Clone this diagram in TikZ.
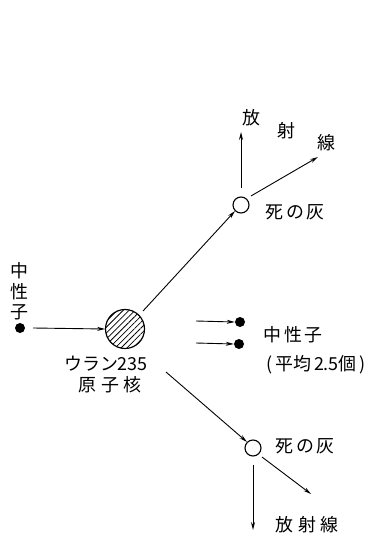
\documentclass[tikz,border=0pt]{standalone}
\usepackage{fontspec}
\newfontfamily\jp{Noto Sans CJK JP}
\usetikzlibrary{arrows.meta,patterns.meta}
\begin{document}
\begin{tikzpicture}[x=1bp,y=-1bp,
  arr/.style={line width=0.9pt,-{Stealth[length=8pt,width=4pt]}},
  lbl/.style={font=\jp\fontsize{18}{20}\selectfont,inner sep=0pt},
  dot/.style={circle,fill=black,minimum size=10bp,inner sep=0pt},
  ring/.style={circle,draw,line width=1.1pt,minimum size=16bp,inner sep=0pt},
  nuc/.style={circle,draw,line width=1.2pt,minimum size=39bp,inner sep=0pt,
    pattern={Lines[angle=45,distance=4.2pt,line width=0.8pt]}}]
\useasboundingbox (0,0) rectangle (378,540);
% left neutron
\node[lbl] (n1) at (19,271) {中};
\node[lbl] (n2) at (19,292) {性};
\node[lbl] (n3) at (19,312) {子};
\node[dot] (nd) at (20,328) {};
\node[nuc] (U) at (125,329) {};
\draw[arr] (nd.east) ++(8,0) coordinate (ns) -- (U.west);
\node[lbl] (ul1) at (106,364) {ウラン235};
\node[lbl] (ul2) at (110,385) {原\;子\;核};
% top fragment
\node[ring] (f1) at (241,205) {};
\draw[arr] (U.north east) ++(4,-4) coordinate (us) -- (f1.south west);
\node[lbl] (f1l) at (295,212) {死\,の\,灰};
\coordinate (t1) at (241,132);
\draw[arr] (f1.north) ++(0,-8) coordinate (f1a) -- (t1);
\coordinate (t2) at (318,157);
\draw[arr] (f1.north east) ++(4,-3) coordinate (f1b) -- (t2);
\node[lbl] (r1) at (251,118) {放};
\node[lbl] (r2) at (286,131) {射};
\node[lbl] (r3) at (326,143) {線};
% middle neutrons
\node[dot] (m1) at (240,322) {};
\node[dot] (m2) at (239,344) {};
\coordinate (m1s) at (196,321);
\coordinate (m2s) at (196,343);
\draw[arr] (m1s) -- (m1.west);
\draw[arr] (m2s) -- (m2.west);
\node[lbl] (ml1) at (293,335) {中\,性\,子};
\node[lbl] (ml2) at (316,365) {(\,平均\,2.5個\,)};
% bottom fragment
\node[ring] (f2) at (253,448) {};
\coordinate (bs) at (166,372);
\draw[arr] (bs) -- (f2.north west);
\node[lbl] (f2l) at (305,446) {死\,の\,灰};
\coordinate (b1) at (253,530);
\draw[arr] (f2.south) ++(0,8) coordinate (f2a) -- (b1);
\coordinate (b2) at (311,494);
\draw[arr] (f2.south east) ++(3,3) coordinate (f2b) -- (b2);
\node[lbl] (bl) at (307,525) {放\;射\;線};
\end{tikzpicture}
\end{document}
